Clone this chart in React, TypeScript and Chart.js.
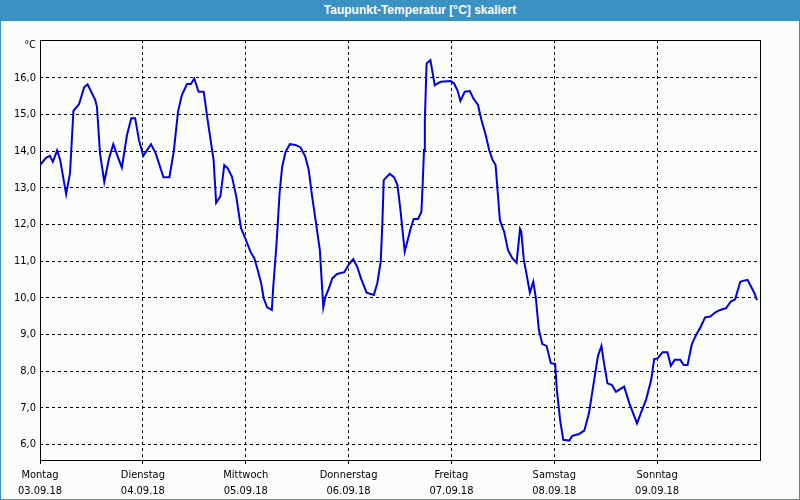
import React, { useEffect, useRef } from 'react';
import { Chart, registerables } from 'chart.js';

Chart.register(...registerables);

const TITLE = 'Taupunkt-Temperatur [°C] skaliert';
const UNIT = '°C';
const dayNames = ['Montag', 'Dienstag', 'Mittwoch', 'Donnerstag', 'Freitag', 'Samstag', 'Sonntag'];
const dayDates = ['03.09.18', '04.09.18', '05.09.18', '06.09.18', '07.09.18', '08.09.18', '09.09.18'];
const dayTickHours = [0, 24, 48, 72, 96, 120, 144, 168];
const yTickValues = [6, 7, 8, 9, 10, 11, 12, 13, 14, 15, 16];
const yMin = 5.58;
const yMax = 17.03;

// hours since Monday 00:00
const hours = [
  0, 1.4, 2.3, 3.0, 4.0, 4.7, 6.1, 7.0, 7.8, 9.1, 10.3, 11.1, 12.9, 13.3, 14.0, 15.0, 16.1, 17.1, 18.2, 19.1,
  20.3, 21.3, 22.2, 23.1, 24.1, 25.9, 27.0, 28.8, 30.2, 31.2, 32.2, 33.1, 34.3, 35.2, 36.0, 37.0, 38.2, 39.0, 39.7, 40.5,
  41.1, 42.1, 43.0, 43.8, 44.8, 45.8, 46.9, 47.9, 49.1, 50.0, 50.8, 51.6, 52.2, 53.0, 54.1, 54.4, 55.2, 55.9, 56.5, 57.3,
  58.3, 59.6, 60.8, 61.9, 62.7, 63.5, 64.3, 65.3, 66.1, 66.6, 67.4, 68.2, 69.3, 71.0, 72.0, 73.1, 74.0, 74.9, 76.2, 77.9,
  78.7, 79.5, 79.9, 80.2, 81.6, 82.6, 83.4, 84.1, 84.5, 85.1, 85.8, 86.5, 87.2, 88.2, 89.0, 89.3, 89.6, 89.8, 90.2, 91.1,
  91.5, 92.1, 93.5, 95.8, 96.6, 97.4, 98.1, 99.1, 100.3, 101.1, 102.2, 103.0, 104.0, 104.8, 105.6, 106.3, 106.7, 107.3, 108.3, 109.2,
  110.2, 111.2, 112.0, 112.3, 112.9, 113.6, 114.3, 115.1, 115.7, 116.4, 117.2, 118.2, 119.2, 120.2, 120.6, 121.4, 122.1, 123.5, 124.2, 125.8,
  127.0, 128.1, 129.3, 130.2, 131.0, 131.6, 132.4, 133.4, 134.4, 135.1, 136.3, 137.5, 139.3, 140.2, 141.4, 142.6, 143.3, 144.1, 145.3, 146.4,
  147.2, 148.1, 149.4, 150.2, 151.1, 152.1, 153.1, 154.2, 155.2, 156.4, 157.5, 158.7, 160.1, 161.2, 162.2, 163.4, 164.2, 165.1, 165.9, 166.7,
  167.3,
];

const dewPoint = [
  13.62, 13.82, 13.87, 13.71, 14.02, 13.76, 12.83, 13.4, 15.1, 15.28, 15.74, 15.82, 15.39, 15.2, 13.94, 13.16, 13.8, 14.19, 13.83, 13.55,
  14.44, 14.9, 14.9, 14.3, 13.87, 14.19, 13.94, 13.29, 13.29, 13.98, 15.07, 15.53, 15.83, 15.83, 15.98, 15.62, 15.62, 14.94, 14.39, 13.76,
  12.59, 12.77, 13.62, 13.53, 13.3, 12.76, 11.9, 11.62, 11.26, 11.08, 10.76, 10.4, 9.99, 9.74, 9.67, 10.26, 11.49, 12.85, 13.57, 13.98,
  14.19, 14.17, 14.1, 13.85, 13.49, 12.76, 12.12, 11.3, 9.74, 10.03, 10.26, 10.53, 10.65, 10.7, 10.9, 11.06, 10.85, 10.53, 10.14, 10.08,
  10.4, 10.99, 12.08, 13.21, 13.38, 13.29, 13.08, 12.4, 11.94, 11.26, 11.58, 11.9, 12.15, 12.15, 12.35, 13.12, 14.03, 14.85, 16.39, 16.48,
  16.21, 15.8, 15.89, 15.91, 15.85, 15.66, 15.37, 15.62, 15.64, 15.44, 15.26, 14.85, 14.44, 14.03, 13.76, 13.62, 13.03, 12.12, 11.8, 11.3,
  11.08, 10.96, 11.88, 11.8, 11.03, 10.6, 10.14, 10.44, 9.99, 9.13, 8.74, 8.69, 8.22, 8.2, 7.49, 6.63, 6.13, 6.11, 6.24, 6.29,
  6.38, 6.86, 7.76, 8.42, 8.69, 8.22, 7.67, 7.63, 7.44, 7.49, 7.58, 7.13, 6.58, 6.86, 7.22, 7.76, 8.33, 8.35, 8.52, 8.52,
  8.15, 8.31, 8.31, 8.17, 8.17, 8.74, 8.99, 9.22, 9.47, 9.49, 9.6, 9.67, 9.72, 9.9, 9.96, 10.44, 10.47, 10.49, 10.31, 10.13,
  9.94,
];

const FONT = '"DejaVu Sans Condensed", "Liberation Sans", sans-serif';
const BAR_BLUE = '#3c91c3';

const framePlugin = {
  id: 'frameAndUnit',
  beforeDatasetsDraw(chart: any) {
    const { ctx, chartArea: a } = chart;
    ctx.save();
    ctx.strokeStyle = '#000';
    ctx.lineWidth = 1;
    ctx.setLineDash([]);
    ctx.strokeRect(Math.round(a.left) + 0.5, Math.round(a.top) + 0.5, Math.round(a.right - a.left), Math.round(a.bottom - a.top));
    ctx.restore();
  },
  afterDraw(chart: any) {
    const { ctx, chartArea: a } = chart;
    ctx.save();
    ctx.fillStyle = '#000';
    ctx.font = '11px ' + FONT;
    ctx.textAlign = 'right';
    ctx.textBaseline = 'middle';
    ctx.fillText(UNIT, a.left - 4, a.top + 5);
    ctx.restore();
  },
};

export default function App() {
  const canvasRef = useRef<HTMLCanvasElement>(null);

  useEffect(() => {
    document.body.style.margin = '0';
    const canvas = canvasRef.current;
    if (!canvas) return;
    const points = hours.map((h, i) => ({ x: h, y: dewPoint[i] }));
    const chart = new Chart(canvas, {
      type: 'line',
      data: {
        datasets: [
          {
            data: points,
            borderColor: '#0000e6',
            borderWidth: 2,
            pointRadius: 0,
            tension: 0,
            fill: false,
          },
        ],
      },
      options: {
        responsive: false,
        animation: false,
        events: [],
        layout: { padding: { top: 40, right: 40, left: 0, bottom: 0 } },
        plugins: {
          legend: { display: false },
          tooltip: { enabled: false },
          title: { display: false },
        },
        scales: {
          x: {
            type: 'linear',
            min: 0,
            max: 168,
            afterBuildTicks: (s: any) => {
              s.ticks = dayTickHours.map((v) => ({ value: v }));
            },
            afterFit: (s: any) => {
              s.height = 40;
            },
            grid: {
              color: '#000',
              lineWidth: 1,
              drawTicks: true,
              tickLength: 4,
              tickColor: (c: any) => (c.index === dayTickHours.length - 1 ? 'rgba(0,0,0,0)' : '#000'),
              tickBorderDash: [],
            },
            border: { display: false, dash: [3, 3] },
            ticks: {
              color: '#000',
              font: { family: FONT, size: 11, lineHeight: 1.45 },
              padding: 3,
              maxRotation: 0,
              autoSkip: false,
              callback: (_v: any, i: number) => (i < dayNames.length ? [dayNames[i], dayDates[i]] : ''),
            },
          },
          y: {
            type: 'linear',
            min: yMin,
            max: yMax,
            afterBuildTicks: (s: any) => {
              s.ticks = yTickValues.map((v) => ({ value: v }));
            },
            afterFit: (s: any) => {
              s.width = 40;
            },
            grid: {
              color: '#000',
              lineWidth: 1,
              drawTicks: false,
              tickLength: 0,
            },
            border: { display: false, dash: [3, 3] },
            ticks: {
              color: '#000',
              font: { family: FONT, size: 11 },
              padding: 4,
              callback: (v: any) => Number(v).toFixed(1).replace('.', ','),
            },
          },
        },
      },
      plugins: [framePlugin],
    } as any);
    return () => chart.destroy();
  }, []);

  return (
    <div style={{ position: 'fixed', left: 0, top: 0, width: 800, height: 500, background: '#fbfdfb', overflow: 'hidden' }}>
      <canvas ref={canvasRef} width={800} height={500} style={{ position: 'absolute', left: 0, top: 0, display: 'block' }} />
      <div
        style={{
          position: 'absolute',
          left: 0,
          top: 0,
          width: 800,
          height: 21,
          background: BAR_BLUE,
          color: '#fff',
          font: 'bold 12px "Liberation Sans", sans-serif',
          lineHeight: '21px',
          textAlign: 'center',
          paddingLeft: 40,
          boxSizing: 'border-box',
        }}
      >
        {TITLE}
      </div>
      <div
        style={{
          position: 'absolute',
          left: 0,
          top: 0,
          width: 800,
          height: 500,
          boxSizing: 'border-box',
          borderLeft: '1px solid ' + BAR_BLUE,
          borderRight: '1px solid ' + BAR_BLUE,
          borderBottom: '1px solid ' + BAR_BLUE,
          pointerEvents: 'none',
        }}
      />
    </div>
  );
}
